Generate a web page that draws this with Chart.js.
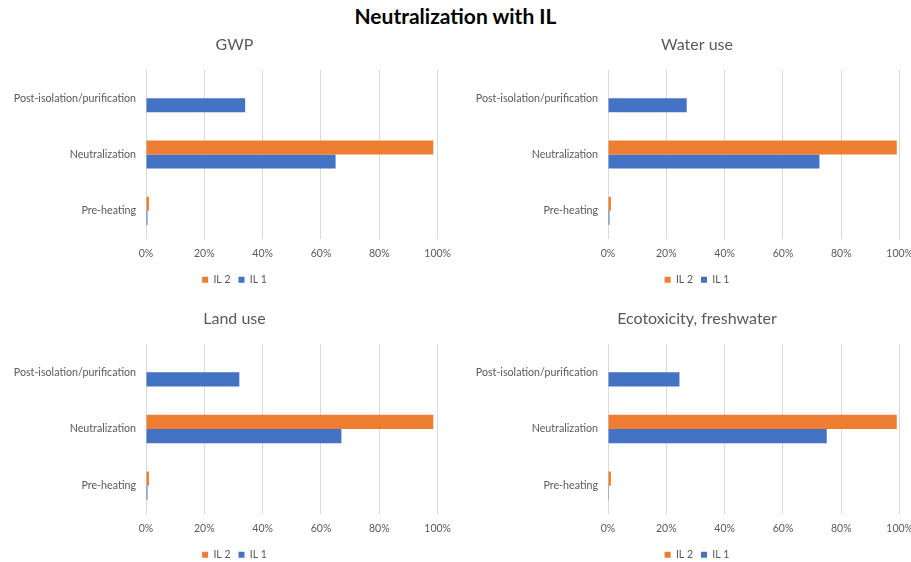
<!DOCTYPE html>
<html>
<head>
<meta charset="utf-8">
<script src="https://cdn.jsdelivr.net/npm/chart.js@4.4.1/dist/chart.umd.min.js"></script>
<style>
  html, body { margin: 0; padding: 0; background: #fff; overflow: hidden; }
  body { width: 911px; height: 562px; position: relative; font-family: Lato, "Open Sans", sans-serif; }
  #mainTitle { position: absolute; left: 0; top: 4px; width: 911px; text-align: center;
               font: bold 21px Lato, "Open Sans", sans-serif; color: #000; line-height: 24px; }
  .panel { position: absolute; }
</style>
</head>
<body>
<div id="mainTitle">Neutralization with IL</div>
<div class="panel" style="left:0px;top:25px;width:459px;height:270px"><canvas id="c1"></canvas></div>
<div class="panel" style="left:470px;top:25px;width:451px;height:270px"><canvas id="c2"></canvas></div>
<div class="panel" style="left:0px;top:299px;width:459px;height:271px"><canvas id="c3"></canvas></div>
<div class="panel" style="left:470px;top:299px;width:451px;height:271px"><canvas id="c4"></canvas></div>
<script>
// Process steps (top to bottom) and the two ionic liquid series, in % of total impact
const steps = ['Post-isolation/purification', 'Neutralization', 'Pre-heating'];
const seriesNames = ['IL 2', 'IL 1'];
const xTicks = [0, 20, 40, 60, 80, 100];

const gwpIL2 = [0, 98.5, 1];
const gwpIL1 = [34, 65, 0.5];

const waterIL2 = [0, 99, 1];
const waterIL1 = [27, 72.5, 0.5];

const landIL2 = [0, 98.5, 1];
const landIL1 = [32, 67, 0.5];

const ecoIL2 = [0, 99, 1];
const ecoIL1 = [24.5, 75, 0.3];

const ORANGE = '#ED7D31';
const BLUE = '#4472C4';
const GREY = '#595959';
const FONT = 'Lato, "Open Sans", sans-serif';

function makeChart(canvasId, title, il2, il1, padLeft, yWidth) {
  return new Chart(document.getElementById(canvasId), {
    type: 'bar',
    data: {
      labels: steps,
      datasets: [
        { label: seriesNames[0], data: il2, backgroundColor: ORANGE },
        { label: seriesNames[1], data: il1, backgroundColor: BLUE }
      ]
    },
    options: {
      indexAxis: 'y',
      responsive: true,
      maintainAspectRatio: false,
      animation: false,
      categoryPercentage: 0.5,
      barPercentage: 1.0,
      layout: { padding: { left: padLeft, right: 0, top: 0, bottom: 0 } },
      scales: {
        x: {
          min: 0, max: 100,
          afterBuildTicks: s => { s.ticks = xTicks.map(v => ({ value: v })); },
          afterFit: s => { s.height = 27.5; },
          ticks: { callback: v => v + '%', color: GREY, font: { family: FONT, size: 10.5 }, maxRotation: 0, padding: 8 },
          grid: { color: '#D9D9D9', lineWidth: 1, drawTicks: false },
          border: { display: false }
        },
        y: {
          afterFit: s => { s.width = yWidth; },
          ticks: { color: GREY, font: { family: FONT, size: 10.7 }, padding: 10 },
          grid: { display: false, drawTicks: false },
          border: { display: false }
        }
      },
      plugins: {
        title: {
          display: true, text: title, color: GREY,
          font: { family: FONT, size: 16, weight: 'normal' },
          padding: { top: 10.4, bottom: 15.4 }
        },
        legend: {
          position: 'bottom',
          labels: { boxWidth: 6, boxHeight: 6, color: GREY, font: { family: FONT, size: 10.5 }, padding: 8 }
        },
        tooltip: { enabled: false }
      }
    }
  });
}

makeChart('c1', 'GWP', gwpIL2, gwpIL1, 10, 136);
makeChart('c2', 'Water use', waterIL2, waterIL1, 3, 135);
makeChart('c3', 'Land use', landIL2, landIL1, 10, 136);
makeChart('c4', 'Ecotoxicity, freshwater', ecoIL2, ecoIL1, 3, 135);
</script>
</body>
</html>
